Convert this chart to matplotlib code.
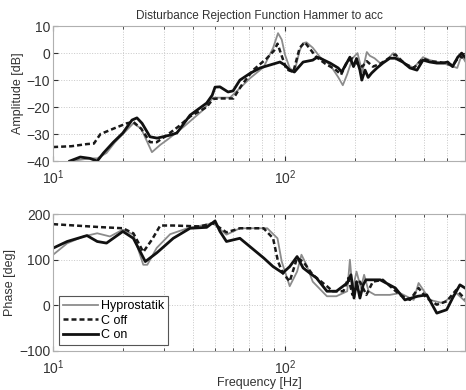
import numpy as np
import matplotlib
matplotlib.use("Agg")
import matplotlib.pyplot as plt

# amplitude [dB]
f_hyp_amp = [11.8, 13.1, 14.4, 15.5, 17.0, 18.5, 20.0, 22.2, 24.0, 26.7, 29.0, 31.0, 36.5,
             44.5, 49.0, 52.5, 58.0, 64.0, 70.8, 81.0, 89.0, 93.5, 97.0, 100.3, 105.0,
             110.0, 116.0, 120.0, 124.0, 132.0, 142.0, 157.0, 170.0, 178.0, 186.0, 196.0,
             206.0, 216.0, 226.0, 233.0, 244.0, 258.0, 272.0, 294.0, 323.0, 360.0, 395.0,
             423.0, 480.0, 555.0, 580.0, 600.0]
hyp_amp = [-40, -39.5, -39, -39, -37, -33, -30, -26, -28, -36.7, -34, -32.2, -27.4,
           -21, -16.5, -16.5, -16.5, -13, -9.3, -5.2, 1.9, 7.4, 5, -0.7, -5.5,
           -7, 1, 3.7, 4, 2, -1.5, -4.4, -8.9, -11.9, -7.8, -1.9,
           0, -7, 0.4, -1, -1.9, -3.7, -3, 0, -3.3, -5.5, -1.5,
           -2.6, -3.7, -5.5, -0.7, -3]

f_off_amp = [10.0, 12.0, 14.0, 15.0, 16.0, 18.2, 20.8, 22.2, 24.0, 26.2, 28.0, 31.0,
             35.0, 39.0, 46.0, 49.0, 52.0, 60.0, 65.0, 73.0, 83.5, 90.0, 93.0, 97.0,
             101.6, 108.8, 116.0, 122.0, 137.0, 150.0, 165.0, 175.0, 186.0, 196.0, 206.0,
             216.0, 226.0, 240.0, 258.0, 280.0, 300.0, 330.0, 360.0, 395.0, 423.0, 480.0,
             530.0, 570.0, 600.0]
off_amp = [-34.8, -34.5, -33.7, -33.5, -30, -28, -26, -25.5, -28, -33, -33, -30.4,
           -27, -23.5, -20, -17, -16.8, -16.8, -12, -6.3, -2, 1, 3.5, -1,
           -6, -7, 2, 4, -1.5, -4, -6, -8, -3, -2, -4,
           -5, -3, -5, -4, -2, -0.5, -4, -5.5, -2, -3, -3.5,
           -4.5, -1, -2.5]

f_on_amp = [11.8, 13.1, 14.4, 15.5, 16.5, 18.2, 20.0, 21.9, 23.0, 24.2, 26.2, 28.1,
            31.9, 34.2, 39.0, 46.0, 48.6, 50.0, 52.5, 56.9, 59.8, 64.0, 70.8, 78.2,
            86.3, 95.3, 100.0, 105.0, 110.0, 120.0, 132.0, 138.0, 142.0, 157.0, 170.0,
            176.0, 186.0, 191.0, 198.0, 204.0, 211.0, 215.0, 222.0, 229.0, 237.0, 250.0,
            265.0, 284.0, 300.0, 323.0, 347.0, 372.0, 395.0, 423.0, 453.0, 480.0, 505.0,
            530.0, 558.0, 580.0, 600.0]
on_amp = [-40, -38.5, -39, -40, -37, -33, -29.6, -24.8, -24, -26, -31, -31.5,
          -30.4, -29.6, -23, -18.5, -15.6, -12.6, -12.5, -14.4, -14, -10, -7.5, -5.5,
          -4.4, -3.3, -4.4, -6.3, -7, -3.3, -2.6, -1.5, -1.9, -3.7, -5.5,
          -7, -3.3, -1.5, -5, -2, -6.3, -10, -6.3, -9, -7.4, -5.5,
          -3.7, -1.9, -1.9, -3.3, -5.5, -6.3, -2.6, -3.3, -3.7, -3.7, -3.3,
          -5, -1.5, 0, -1.5]

# phase [deg]
f_hyp_ph = [10.0, 11.5, 13.5, 15.5, 17.6, 20.0, 22.2, 24.5, 25.5, 28.0, 32.0, 38.0,
            49.0, 56.0, 64.0, 84.0, 93.0, 97.0, 105.0, 113.0, 118.0, 124.0, 132.0,
            152.0, 167.0, 186.0, 191.0, 196.0, 204.0, 213.0, 220.0, 230.0, 245.0,
            284.0, 314.0, 360.0, 378.0, 423.0, 480.0, 550.0, 600.0]
hyp_ph = [111, 136, 151, 158, 151, 166, 155, 89, 89, 126, 156, 169,
          180, 155, 169, 169, 147, 96, 42, 74, 111, 89, 52,
          20, 20, 31, 100, 34, 74, 38, 67, 31, 23,
          23, 27, 12, 49, 12, 5, 27, 9]

f_off_ph = [10.0, 16.0, 20.0, 22.2, 24.5, 26.7, 29.0, 33.0, 43.0, 49.0, 56.0, 64.0,
            81.0, 89.0, 93.5, 98.0, 105.0, 113.0, 120.0, 132.0, 152.0, 161.0, 179.0,
            188.0, 196.0, 211.0, 225.0, 240.0, 265.0, 314.0, 347.0, 378.0, 410.0,
            453.0, 500.0, 550.0, 600.0]
off_ph = [178, 171.5, 169, 158, 117, 144, 175, 175, 173, 180, 160, 169,
          169, 147, 96, 71, 52.5, 104, 96, 67, 42, 31, 31,
          60, 23, 52, 23, 52, 56, 23, 12, 38, 16,
          1.5, 9, 34, 14]

f_on_ph = [10.0, 11.5, 14.0, 15.5, 17.0, 20.0, 22.2, 25.0, 28.0, 33.0, 39.0, 46.0,
           50.0, 52.5, 56.0, 64.0, 81.0, 89.0, 98.0, 105.0, 113.0, 120.0, 128.0,
           137.0, 152.0, 167.0, 186.0, 193.0, 199.0, 204.0, 211.0, 218.0, 224.0,
           258.0, 300.0, 330.0, 375.0, 410.0, 453.0, 500.0, 530.0, 570.0, 600.0]
on_ph = [125.5, 140, 153, 140, 136.5, 162, 147, 96, 115, 147, 169, 171,
         185, 162, 140, 147, 104, 85, 71, 85, 107, 82, 71,
         60, 31, 31, 49, 67, 16, 52, 16, 45, 56,
         56, 38, 12, 20, 23, -17, -9.5, 16, 45, 38]

plt.rcParams['font.family'] = ['Liberation Sans', 'DejaVu Sans']
plt.rcParams['font.size'] = 8

fig = plt.figure(figsize=(4.66, 3.9), dpi=100)
ax1 = fig.add_axes([0.114, 0.587, 0.884, 0.346])
ax2 = fig.add_axes([0.114, 0.10, 0.884, 0.351])

gray = '#8c8c8c'
txt = '#333333'
for ax in (ax1, ax2):
    ax.set_xscale('log')
    ax.set_xlim(10, 600)
    ax.grid(True, which='both', axis='x', linestyle=':', color='#c8c8c8', linewidth=0.7)
    ax.grid(True, which='major', axis='y', linestyle=':', color='#c8c8c8', linewidth=0.7)
    ax.tick_params(which='both', direction='in', labelsize=10, colors=txt,
                   top=True, right=True)
    ax.tick_params(axis='y', pad=2)
    ax.tick_params(axis='x', which='major', pad=5)
    ax.tick_params(which='minor', labelbottom=False)
    for s in ax.spines.values():
        s.set_color('#b0b0b0')

ax1.plot(f_hyp_amp, hyp_amp, color=gray, lw=1.3, label='Hyprostatik')
ax1.plot(f_off_amp, off_amp, color='#1a1a1a', lw=1.8, ls=(0, (2, 1.2)), label='C off')
ax1.plot(f_on_amp, on_amp, color='#111111', lw=2.0, label='C on')
ax1.set_ylim(-40, 10)
ax1.set_yticks([-40, -30, -20, -10, 0, 10])
ax1.set_ylabel('Amplitude [dB]', fontsize=9, color=txt, labelpad=2)
ax1.set_title('Disturbance Rejection Function Hammer to acc', fontsize=8.5,
              color=txt, pad=5)

ax2.plot(f_hyp_ph, hyp_ph, color=gray, lw=1.3, label='Hyprostatik')
ax2.plot(f_off_ph, off_ph, color='#1a1a1a', lw=1.8, ls=(0, (2, 1.2)), label='C off')
ax2.plot(f_on_ph, on_ph, color='#111111', lw=2.0, label='C on')
ax2.set_ylim(-100, 200)
ax2.set_yticks([-100, 0, 100, 200])
ax2.set_ylabel('Phase [deg]', fontsize=9, color=txt, labelpad=2)
ax2.set_xlabel('Frequency [Hz]', fontsize=9, color=txt, labelpad=0)
leg = ax2.legend(loc='lower left', fontsize=9, handlelength=2.8, handletextpad=0.2,
                 borderpad=0.3, labelspacing=0.2, fancybox=False, framealpha=1,
                 borderaxespad=0.5)
leg.get_frame().set_edgecolor('#555555')
leg.get_frame().set_linewidth(0.8)

fig.savefig('out.png', dpi=100)
